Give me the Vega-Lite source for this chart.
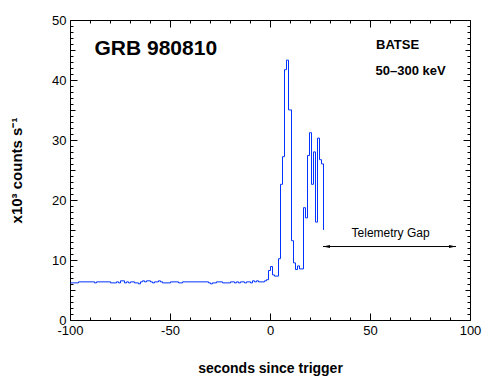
{
  "$schema": "https://vega.github.io/schema/vega-lite/v6.json",
  "width": 400,
  "height": 300,
  "autosize": {"type": "none"},
  "padding": {"left": 70, "top": 20, "right": 20, "bottom": 70},
  "background": "white",
  "config": {
    "view": {"stroke": null},
    "font": "Liberation Sans",
    "axis": {
      "grid": false,
      "domainColor": "black",
      "domainWidth": 1,
      "tickColor": "black",
      "tickWidth": 1,
      "labelColor": "black",
      "titleColor": "black",
      "labelFont": "Liberation Sans",
      "titleFont": "Liberation Sans",
      "labelFontSize": 13,
      "labelFontWeight": "normal",
      "labelOverlap": false,
      "labelFlush": false
    }
  },
  "datasets": {
    "lc": [
      {"t": -100, "c": 6.27}, {"t": -96, "c": 6.44}, {"t": -88, "c": 6.27}, {"t": -87, "c": 6.44},
      {"t": -80, "c": 6.27}, {"t": -77, "c": 6.44}, {"t": -76, "c": 6.27}, {"t": -75, "c": 6.61},
      {"t": -73, "c": 6.27}, {"t": -72, "c": 6.44}, {"t": -71, "c": 6.27}, {"t": -70, "c": 6.44},
      {"t": -68, "c": 6.27}, {"t": -66, "c": 6.11}, {"t": -65, "c": 6.44}, {"t": -64, "c": 6.61},
      {"t": -63, "c": 6.44}, {"t": -62, "c": 6.61}, {"t": -60, "c": 6.44}, {"t": -59, "c": 6.27},
      {"t": -58, "c": 6.44}, {"t": -56, "c": 6.61}, {"t": -55, "c": 6.44}, {"t": -54, "c": 6.27},
      {"t": -50, "c": 6.44}, {"t": -46, "c": 6.27}, {"t": -44, "c": 6.44}, {"t": -31, "c": 6.27},
      {"t": -30, "c": 6.11}, {"t": -29, "c": 6.27}, {"t": -27, "c": 6.44}, {"t": -24, "c": 6.27},
      {"t": -20, "c": 6.44}, {"t": -18, "c": 6.27}, {"t": -17, "c": 6.44}, {"t": -16, "c": 6.27},
      {"t": -15, "c": 6.44}, {"t": -13, "c": 6.27}, {"t": -12, "c": 6.44}, {"t": -10, "c": 6.27},
      {"t": -9, "c": 6.61}, {"t": -8, "c": 6.44}, {"t": -7, "c": 6.61}, {"t": -6, "c": 6.44},
      {"t": -3, "c": 6.61}, {"t": -2, "c": 6.8}, {"t": -1, "c": 8.33}, {"t": 0, "c": 9.0},
      {"t": 1, "c": 7.6}, {"t": 2, "c": 7.4}, {"t": 4, "c": 10.3}, {"t": 5, "c": 22.7},
      {"t": 6, "c": 27.3}, {"t": 7, "c": 41.8}, {"t": 8, "c": 43.4}, {"t": 9, "c": 35.1},
      {"t": 10.5, "c": 13.3}, {"t": 11.5, "c": 9.6}, {"t": 12.5, "c": 8.5}, {"t": 13.5, "c": 9.1},
      {"t": 14.5, "c": 8.6}, {"t": 16.5, "c": 18.8}, {"t": 17.5, "c": 17.1}, {"t": 18.5, "c": 27.5},
      {"t": 19.5, "c": 31.3}, {"t": 20.5, "c": 22.7}, {"t": 21.5, "c": 28.1}, {"t": 22.5, "c": 16.4},
      {"t": 23.5, "c": 30.4}, {"t": 24.5, "c": 26.8}, {"t": 25.5, "c": 26.1}, {"t": 26.5, "c": 15.1}
    ],
    "gap": [{"t": 26.5, "t2": 93, "c": 12.33}],
    "gapLeft": [{"t": 26.5, "c": 12.33}],
    "gapRight": [{"t": 93, "c": 12.33}],
    "gapLabel": [{"t": 60.3, "c": 13.9, "label": "Telemetry Gap"}],
    "grb": [{"t": -87.75, "c": 44.2, "label": "GRB 980810"}],
    "inst": [{"t": 53, "c": 45.1, "label": "BATSE"}, {"t": 52.8, "c": 40.8, "label": "50–300 keV"}],
    "frame": [{"t": 0, "c": 0}]
  },
  "layer": [
    {
      "layer": [
        {
          "data": {"name": "lc"},
          "mark": {"type": "line", "interpolate": "step-after", "color": "#0033ff", "strokeWidth": 1, "xOffset": 0.5, "yOffset": 0.5},
          "encoding": {
            "x": {
              "field": "t", "type": "quantitative",
              "scale": {"domain": [-100, 100], "nice": false, "zero": false},
              "axis": {
                "orient": "bottom",
                "values": [-100, -50, 0, 50, 100],
                "labelExpr": "replace(datum.label, '−', '-')",
                "tickSize": -7,
                "labelPadding": 11,
                "labelOverlap": false,
                "labelFlush": false,
                "title": "seconds since trigger",
                "titleFontSize": 14,
                "titleFontWeight": "bold",
                "titlePadding": 24
              }
            },
            "y": {
              "field": "c", "type": "quantitative",
              "scale": {"domain": [0, 50], "nice": false, "zero": true},
              "axis": {
                "orient": "left",
                "values": [0, 10, 20, 30, 40, 50],
                "tickSize": -7,
                "labelPadding": 11,
                "labelOverlap": false,
                "labelFlush": false,
                "title": "x10³ counts s⁻¹",
                "titleFontSize": 15,
                "titleFontWeight": "bold",
                "titlePadding": 27
              }
            }
          }
        },
        {
          "data": {"name": "gap"},
          "mark": {"type": "rule", "color": "black", "strokeWidth": 1, "yOffset": 0.5},
          "encoding": {
            "x": {"field": "t", "type": "quantitative"},
            "x2": {"field": "t2"},
            "y": {"field": "c", "type": "quantitative"}
          }
        },
        {
          "data": {"name": "gapLeft"},
          "mark": {"type": "point", "shape": "M0,0L2,-0.45L2,0.45Z", "filled": true, "color": "black", "opacity": 1, "size": 49, "yOffset": 0.5},
          "encoding": {
            "x": {"field": "t", "type": "quantitative"},
            "y": {"field": "c", "type": "quantitative"}
          }
        },
        {
          "data": {"name": "gapRight"},
          "mark": {"type": "point", "shape": "M0,0L-2,-0.45L-2,0.45Z", "filled": true, "color": "black", "opacity": 1, "size": 49, "yOffset": 0.5},
          "encoding": {
            "x": {"field": "t", "type": "quantitative"},
            "y": {"field": "c", "type": "quantitative"}
          }
        },
        {
          "data": {"name": "gapLabel"},
          "mark": {"type": "text", "font": "Liberation Sans", "fontSize": 12, "align": "center", "baseline": "alphabetic", "color": "black"},
          "encoding": {
            "x": {"field": "t", "type": "quantitative"},
            "y": {"field": "c", "type": "quantitative"},
            "text": {"field": "label"}
          }
        },
        {
          "data": {"name": "grb"},
          "mark": {"type": "text", "font": "Liberation Sans", "fontSize": 21, "fontWeight": "bold", "align": "left", "baseline": "alphabetic", "color": "black"},
          "encoding": {
            "x": {"field": "t", "type": "quantitative"},
            "y": {"field": "c", "type": "quantitative"},
            "text": {"field": "label"}
          }
        },
        {
          "data": {"name": "inst"},
          "mark": {"type": "text", "font": "Liberation Sans", "fontSize": 13, "fontWeight": "bold", "align": "left", "baseline": "alphabetic", "color": "black"},
          "encoding": {
            "x": {"field": "t", "type": "quantitative"},
            "y": {"field": "c", "type": "quantitative"},
            "text": {"field": "label"}
          }
        }
      ]
    },
    {
      "data": {"name": "frame"},
      "mark": {"type": "point", "opacity": 0},
      "encoding": {
        "x": {
          "field": "t", "type": "quantitative",
          "scale": {"domain": [-100, 100], "nice": false, "zero": false},
          "axis": {"orient": "top", "values": [-100, -50, 0, 50, 100], "labels": false, "title": null, "tickSize": -7}
        },
        "y": {
          "field": "c", "type": "quantitative",
          "scale": {"domain": [0, 50], "nice": false, "zero": true},
          "axis": {"orient": "right", "values": [0, 10, 20, 30, 40, 50], "labels": false, "title": null, "tickSize": -7}
        }
      }
    },
    {
      "data": {"name": "frame"},
      "mark": {"type": "point", "opacity": 0},
      "encoding": {
        "x": {
          "field": "t", "type": "quantitative",
          "scale": {"domain": [-100, 100], "nice": false, "zero": false},
          "axis": {"orient": "bottom", "values": [-90, -80, -70, -60, -40, -30, -20, -10, 10, 20, 30, 40, 60, 70, 80, 90], "labels": false, "title": null, "domain": false, "tickSize": -3}
        },
        "y": {
          "field": "c", "type": "quantitative",
          "scale": {"domain": [0, 50], "nice": false, "zero": true},
          "axis": {"orient": "left", "values": [1, 2, 3, 4, 6, 7, 8, 9, 11, 12, 13, 14, 16, 17, 18, 19, 21, 22, 23, 24, 26, 27, 28, 29, 31, 32, 33, 34, 36, 37, 38, 39, 41, 42, 43, 44, 46, 47, 48, 49], "labels": false, "title": null, "domain": false, "tickSize": -3}
        }
      }
    },
    {
      "data": {"name": "frame"},
      "mark": {"type": "point", "opacity": 0},
      "encoding": {
        "x": {
          "field": "t", "type": "quantitative",
          "scale": {"domain": [-100, 100], "nice": false, "zero": false},
          "axis": {"orient": "top", "values": [-90, -80, -70, -60, -40, -30, -20, -10, 10, 20, 30, 40, 60, 70, 80, 90], "labels": false, "title": null, "domain": false, "tickSize": -3}
        },
        "y": {
          "field": "c", "type": "quantitative",
          "scale": {"domain": [0, 50], "nice": false, "zero": true},
          "axis": {"orient": "right", "values": [1, 2, 3, 4, 6, 7, 8, 9, 11, 12, 13, 14, 16, 17, 18, 19, 21, 22, 23, 24, 26, 27, 28, 29, 31, 32, 33, 34, 36, 37, 38, 39, 41, 42, 43, 44, 46, 47, 48, 49], "labels": false, "title": null, "domain": false, "tickSize": -3}
        }
      }
    },
    {
      "data": {"name": "frame"},
      "mark": {"type": "point", "opacity": 0},
      "encoding": {
        "x": {"field": "t", "type": "quantitative", "scale": {"domain": [-100, 100], "nice": false, "zero": false}, "axis": null},
        "y": {
          "field": "c", "type": "quantitative",
          "scale": {"domain": [0, 50], "nice": false, "zero": true},
          "axis": {"orient": "left", "values": [5, 15, 25, 35, 45], "labels": false, "title": null, "domain": false, "tickSize": -5}
        }
      }
    },
    {
      "data": {"name": "frame"},
      "mark": {"type": "point", "opacity": 0},
      "encoding": {
        "x": {"field": "t", "type": "quantitative", "scale": {"domain": [-100, 100], "nice": false, "zero": false}, "axis": null},
        "y": {
          "field": "c", "type": "quantitative",
          "scale": {"domain": [0, 50], "nice": false, "zero": true},
          "axis": {"orient": "right", "values": [5, 15, 25, 35, 45], "labels": false, "title": null, "domain": false, "tickSize": -5}
        }
      }
    }
  ],
  "resolve": {"scale": {"x": "independent", "y": "independent"}}
}
